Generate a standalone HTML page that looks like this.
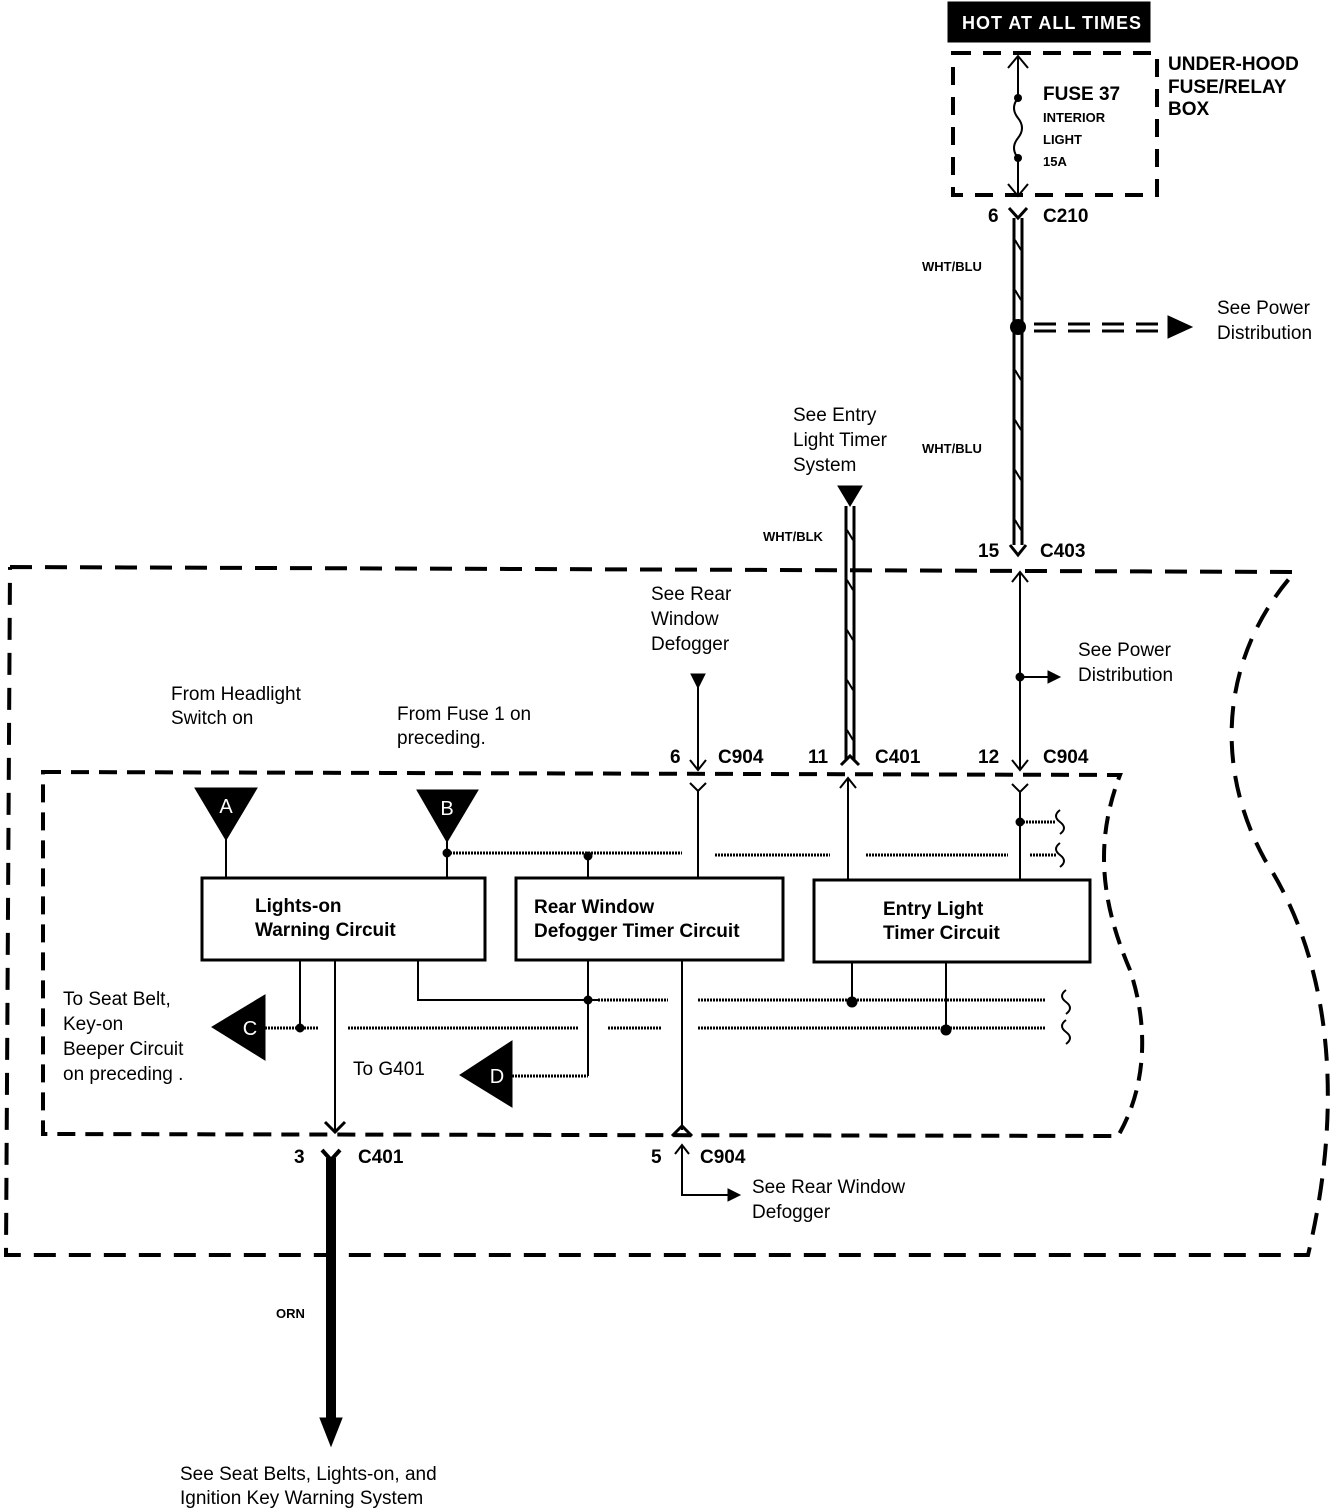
<!DOCTYPE html>
<html><head><meta charset="utf-8"><style>
html,body{margin:0;padding:0;background:#fff}
svg{display:block}
text{font-family:"Liberation Sans",sans-serif;fill:#000}
.l{font-size:19px}
.b{font-size:19px;font-weight:bold}
.s{font-size:13px;font-weight:bold}
.t{font-size:20px;fill:#fff;text-anchor:middle}
</style></head><body>
<svg width="1344" height="1510" viewBox="0 0 1344 1510" xmlns="http://www.w3.org/2000/svg">
<g fill="none" stroke="#000">
<rect x="948" y="2" width="202" height="40" fill="#000"/>
<rect x="953" y="53" width="204" height="142" stroke-width="4" stroke-dasharray="18,12"/>
<line x1="1018" y1="56" x2="1018" y2="98" stroke-width="2"/>
<line x1="1018" y1="158" x2="1018" y2="196" stroke-width="2"/>
<path d="M1018,98 q-8,10 0,20 q8,10 0,20 q-8,10 0,20" stroke-width="2"/>
<circle cx="1018" cy="98" r="4" fill="#000" stroke="none"/>
<circle cx="1018" cy="158" r="4" fill="#000" stroke="none"/>
<path d="M1008,68 L1018,56 L1028,68 M1008,184 L1018,196 L1028,184" stroke-width="2"/>
<path d="M1009,208 L1018,218 L1027,208" stroke-width="3"/>
<line x1="1014" y1="218" x2="1014" y2="545" stroke-width="3"/>
<line x1="1022" y1="218" x2="1022" y2="545" stroke-width="3"/>
<path d="M1015,240 l6,10 M1015,290 l6,10 M1015,370 l6,10 M1015,420 l6,10 M1015,470 l6,10 M1015,520 l6,10" stroke-width="2"/>
<circle cx="1018" cy="327" r="8" fill="#000" stroke="none"/>
<line x1="1034" y1="324" x2="1172" y2="324" stroke-width="3" stroke-dasharray="22,12"/>
<line x1="1034" y1="331" x2="1172" y2="331" stroke-width="3" stroke-dasharray="22,12"/>
<path d="M1168,316 L1192,327 L1168,338 z" fill="#000"/>
<path d="M1010,545 L1018,555 L1026,545" stroke-width="3"/>
<path d="M10,567 L1295,572 C1225,650 1210,760 1265,860 C1330,960 1345,1100 1308,1255 L6,1255 L10,567" stroke-width="4" stroke-dasharray="22,13"/>
<path d="M43,772 L1120,775 C1095,840 1100,900 1130,970 C1150,1030 1145,1090 1118,1136 L43,1134 Z" stroke-width="4" stroke-dasharray="18,10"/>
<line x1="1020" y1="572" x2="1020" y2="770" stroke-width="2"/>
<path d="M1012,582 L1020,572 L1028,582 M1012,760 L1020,770 L1028,760" stroke-width="2"/>
<line x1="1020" y1="677" x2="1050" y2="677" stroke-width="2"/>
<path d="M1048,671 L1060,677 L1048,683 z" fill="#000"/>
<circle cx="1020" cy="677" r="4" fill="#000"/>
<path d="M1012,784 L1020,792 L1028,784" stroke-width="2"/>
<line x1="1020" y1="792" x2="1020" y2="880" stroke-width="2"/>
<path d="M838,486 L862,486 L850,506 z" fill="#000"/>
<line x1="846" y1="506" x2="846" y2="760" stroke-width="3"/>
<line x1="854" y1="506" x2="854" y2="760" stroke-width="3"/>
<path d="M847,530 l6,10 M847,580 l6,10 M847,630 l6,10 M847,680 l6,10 M847,730 l6,10" stroke-width="2"/>
<path d="M841,765 L850,756 L859,765" stroke-width="3"/>
<line x1="848" y1="778" x2="848" y2="880" stroke-width="2"/>
<path d="M840,788 L848,778 L856,788" stroke-width="2"/>
<path d="M691,674 L705,674 L698,688 z" fill="#000"/>
<line x1="698" y1="676" x2="698" y2="770" stroke-width="2"/>
<path d="M690,760 L698,770 L706,760 M690,783 L698,791 L706,783" stroke-width="2"/>
<line x1="698" y1="791" x2="698" y2="878" stroke-width="2"/>
<path d="M195,788 L257,788 L226,840 z" fill="#000"/>
<path d="M417,790 L478,790 L447,842 z" fill="#000"/>
<line x1="226" y1="838" x2="226" y2="878" stroke-width="2"/>
<line x1="447" y1="840" x2="447" y2="878" stroke-width="2"/>
<rect x="202" y="878" width="283" height="82" stroke-width="3"/>
<rect x="516" y="878" width="267" height="82" stroke-width="3"/>
<rect x="814" y="880" width="276" height="82" stroke-width="3"/>
<g stroke-width="3" stroke-dasharray="2,1">
<line x1="447" y1="853" x2="682" y2="853"/>
<line x1="715" y1="855" x2="830" y2="855"/>
<line x1="866" y1="855" x2="1008" y2="855"/>
<line x1="1030" y1="855" x2="1056" y2="855"/>
<line x1="1020" y1="822" x2="1056" y2="822"/>
<line x1="348" y1="1028" x2="578" y2="1028"/>
<line x1="608" y1="1028" x2="662" y2="1028"/>
<line x1="698" y1="1028" x2="1045" y2="1028"/>
<line x1="598" y1="1000" x2="668" y2="1000"/>
<line x1="698" y1="1000" x2="1045" y2="1000"/>
<line x1="265" y1="1028" x2="318" y2="1028"/>
<line x1="512" y1="1076" x2="588" y2="1076"/>
</g>
<path d="M1060,810 q-8,6 0,12 q8,6 0,12 M1060,843 q-8,6 0,12 q8,6 0,12 M1066,990 q-8,6 0,12 q8,6 0,12 M1066,1020 q-8,6 0,12 q8,6 0,12" stroke-width="2"/>
<line x1="588" y1="853" x2="588" y2="878" stroke-width="2"/>
<circle cx="447" cy="853" r="4" fill="#000"/>
<circle cx="588" cy="856" r="4" fill="#000"/>
<circle cx="1020" cy="822" r="4" fill="#000"/>
<line x1="300" y1="960" x2="300" y2="1028" stroke-width="2"/>
<circle cx="300" cy="1028" r="4" fill="#000"/>
<path d="M212,1027 L265,995 L265,1060 z" fill="#000"/>
<line x1="335" y1="960" x2="335" y2="1130" stroke-width="2"/>
<path d="M325,1122 L335,1132 L345,1122" stroke-width="3"/>
<path d="M418,960 L418,1000 L598,1000" stroke-width="2"/>
<line x1="588" y1="960" x2="588" y2="1076" stroke-width="2"/>
<circle cx="588" cy="1000" r="4" fill="#000"/>
<path d="M460,1075 L512,1041 L512,1107 z" fill="#000"/>
<line x1="852" y1="962" x2="852" y2="1000" stroke-width="2"/>
<circle cx="852" cy="1002" r="5" fill="#000"/>
<line x1="946" y1="962" x2="946" y2="1030" stroke-width="2"/>
<circle cx="946" cy="1030" r="5" fill="#000"/>
<line x1="682" y1="960" x2="682" y2="1130" stroke-width="2"/>
<path d="M672,1136 L682,1126 L692,1136" stroke-width="3"/>
<path d="M675,1154 L682,1145 L689,1154" stroke-width="2"/>
<path d="M682,1145 L682,1195 L730,1195" stroke-width="2"/>
<path d="M728,1189 L740,1195 L728,1201 z" fill="#000"/>
<path d="M322,1150 L331,1160 L340,1150" stroke-width="4"/>
<line x1="331" y1="1158" x2="331" y2="1422" stroke-width="10"/>
<path d="M320,1418 L342,1418 L331,1446 z" fill="#000"/>
</g>
<text x="962" y="29" style="font-size:18px;font-weight:bold;fill:#fff;letter-spacing:1px">HOT AT ALL TIMES</text>
<text class="b" x="1043" y="100">FUSE 37</text>
<text class="s" x="1043" y="122">INTERIOR</text>
<text class="s" x="1043" y="144">LIGHT</text>
<text class="s" x="1043" y="166">15A</text>
<text class="b" x="1168" y="70">UNDER-HOOD</text>
<text class="b" x="1168" y="93">FUSE/RELAY</text>
<text class="b" x="1168" y="115">BOX</text>
<text class="b" x="988" y="222">6</text>
<text class="b" x="1043" y="222">C210</text>
<text class="s" x="922" y="271">WHT/BLU</text>
<text class="s" x="922" y="453">WHT/BLU</text>
<text class="l" x="1217" y="314">See  Power</text>
<text class="l" x="1217" y="339">Distribution</text>
<text class="l" x="793" y="421">See Entry</text>
<text class="l" x="793" y="446">Light Timer</text>
<text class="l" x="793" y="471">System</text>
<text class="s" x="763" y="541">WHT/BLK</text>
<text class="b" x="978" y="557">15</text>
<text class="b" x="1040" y="557">C403</text>
<text class="l" x="651" y="600">See Rear</text>
<text class="l" x="651" y="625">Window</text>
<text class="l" x="651" y="650">Defogger</text>
<text class="l" x="1078" y="656">See Power</text>
<text class="l" x="1078" y="681">Distribution</text>
<text class="l" x="171" y="700">From Headlight</text>
<text class="l" x="171" y="724">Switch on</text>
<text class="l" x="397" y="720">From Fuse 1 on</text>
<text class="l" x="397" y="744">preceding.</text>
<text class="b" x="670" y="763">6</text>
<text class="b" x="718" y="763">C904</text>
<text class="b" x="808" y="763">11</text>
<text class="b" x="875" y="763">C401</text>
<text class="b" x="978" y="763">12</text>
<text class="b" x="1043" y="763">C904</text>
<text class="t" x="226" y="813">A</text>
<text class="t" x="447" y="815">B</text>
<text class="t" x="250" y="1035">C</text>
<text class="t" x="497" y="1083">D</text>
<text class="b" x="255" y="912">Lights-on</text>
<text class="b" x="255" y="936">Warning  Circuit</text>
<text class="b" x="534" y="913">Rear Window</text>
<text class="b" x="534" y="937">Defogger Timer Circuit</text>
<text class="b" x="883" y="915">Entry Light</text>
<text class="b" x="883" y="939">Timer Circuit</text>
<text class="l" x="63" y="1005">To Seat Belt,</text>
<text class="l" x="63" y="1030">Key-on</text>
<text class="l" x="63" y="1055">Beeper Circuit</text>
<text class="l" x="63" y="1080">on preceding .</text>
<text class="l" x="353" y="1075">To G401</text>
<text class="b" x="294" y="1163">3</text>
<text class="b" x="358" y="1163">C401</text>
<text class="b" x="651" y="1163">5</text>
<text class="b" x="700" y="1163">C904</text>
<text class="l" x="752" y="1193">See Rear Window</text>
<text class="l" x="752" y="1218">Defogger</text>
<text class="s" x="276" y="1318">ORN</text>
<text class="l" x="180" y="1480">See Seat Belts, Lights-on, and</text>
<text class="l" x="180" y="1504">Ignition Key Warning System</text>
</svg>
</body></html>
